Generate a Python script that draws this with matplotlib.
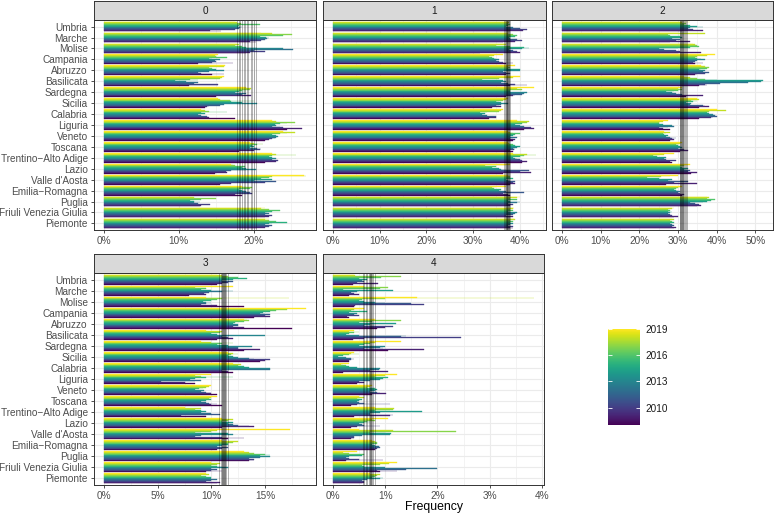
import numpy as np
import matplotlib
matplotlib.use('Agg')
import matplotlib.pyplot as plt
from matplotlib import cm, colors
from matplotlib.ticker import FuncFormatter, MultipleLocator

plt.rcParams['font.family'] = ['Liberation Sans', 'DejaVu Sans']

regions = ['Umbria', 'Marche', 'Molise', 'Campania', 'Abruzzo', 'Basilicata',
           'Sardegna', 'Sicilia', 'Calabria', 'Liguria', 'Veneto', 'Toscana',
           'Trentino\u2212Alto Adige', 'Lazio', "Valle d'Aosta",
           'Emilia\u2212Romagna', 'Puglia', 'Friuli Venezia Giulia', 'Piemonte']
years = list(range(2008, 2020))

# values in %, one row per region, columns 2008..2019
freq0 = [
    [15.6, 14.2, 17.5, 18.0, 18.2, 18.4, 17.9, 18.0, 20.8, 18.3, 17.8, 17.5],
    [20.3, 19.5, 21.0, 21.5, 21.8, 22.0, 21.6, 20.8, 24.0, 25.2, 22.5, 21.0],
    [19.0, 19.5, 21.5, 20.0, 25.3, 24.0, 20.5, 19.0, 18.5, 17.5, 18.0, 17.8],
    [12.5, 17.2, 14.5, 15.0, 14.8, 15.5, 14.5, 14.0, 16.5, 15.0, 14.8, 15.2],
    [14.5, 16.0, 13.0, 12.5, 14.0, 16.0, 15.0, 13.5, 14.5, 14.0, 16.0, 16.2],
    [11.3, 15.2, 15.3, 12.0, 12.5, 11.0, 9.5, 12.5, 11.5, 15.5, 15.8, 16.0],
    [15.0, 19.7, 17.0, 18.5, 19.0, 17.5, 18.0, 19.0, 18.5, 19.5, 19.6, 19.0],
    [13.5, 13.8, 14.0, 15.5, 16.0, 20.5, 18.5, 17.0, 20.0, 16.8, 15.5, 15.2],
    [17.5, 14.0, 13.5, 13.8, 13.0, 12.5, 13.5, 13.0, 16.5, 14.0, 13.5, 13.0],
    [24.5, 26.5, 24.0, 23.5, 22.5, 23.0, 22.8, 23.5, 24.5, 25.5, 23.0, 22.5],
    [21.5, 22.0, 22.5, 22.8, 23.0, 23.2, 23.0, 22.5, 23.5, 24.5, 25.5, 24.0],
    [18.0, 20.0, 20.8, 21.0, 20.5, 19.5, 20.0, 19.8, 20.5, 21.2, 20.0, 19.5],
    [21.5, 23.0, 23.2, 22.5, 22.0, 23.0, 22.5, 22.0, 22.5, 25.7, 23.0, 22.5],
    [14.8, 16.5, 16.3, 17.0, 19.0, 20.3, 19.0, 18.5, 18.8, 17.5, 17.2, 17.0],
    [15.5, 17.0, 21.5, 23.0, 21.0, 20.0, 22.5, 21.0, 22.0, 22.5, 27.0, 26.8],
    [18.5, 17.5, 19.8, 19.5, 19.0, 18.8, 18.5, 18.0, 19.5, 19.8, 19.0, 18.5],
    [12.8, 13.0, 14.2, 12.5, 12.0, 12.8, 12.0, 11.5, 13.0, 15.0, 12.0, 11.5],
    [21.5, 22.0, 22.5, 21.5, 22.0, 21.5, 21.8, 22.5, 23.5, 22.0, 21.0, 21.5],
    [20.5, 21.5, 22.0, 22.5, 21.5, 22.0, 22.5, 24.5, 23.0, 22.0, 21.5, 22.0],
]
freq1 = [
    [38.0, 40.8, 41.5, 40.0, 38.5, 36.0, 37.0, 37.5, 38.0, 37.5, 37.8, 37.5],
    [36.5, 39.0, 40.5, 39.5, 38.0, 37.5, 37.8, 39.0, 39.5, 38.5, 37.5, 37.8],
    [31.5, 40.0, 39.5, 38.5, 37.8, 40.5, 42.0, 41.0, 38.0, 35.0, 37.0, 38.0],
    [37.0, 38.5, 36.5, 35.5, 35.0, 35.5, 35.0, 34.5, 34.0, 33.5, 34.5, 36.5],
    [37.0, 36.5, 38.0, 37.0, 36.5, 40.0, 40.0, 37.0, 37.5, 38.0, 37.5, 39.0],
    [38.0, 41.5, 39.0, 37.5, 36.0, 37.0, 36.5, 27.0, 32.0, 35.5, 38.5, 40.0],
    [37.0, 38.5, 39.0, 40.5, 41.0, 41.5, 38.0, 37.5, 38.0, 40.5, 39.5, 43.0],
    [34.0, 36.0, 35.5, 35.0, 36.0, 37.5, 36.0, 35.0, 35.5, 36.5, 37.0, 37.5],
    [33.5, 35.0, 34.5, 35.0, 33.0, 32.0, 32.5, 31.5, 33.0, 35.5, 36.0, 36.5],
    [41.0, 43.0, 42.5, 40.5, 41.0, 40.0, 39.0, 40.5, 40.0, 41.5, 42.0, 39.5],
    [38.5, 39.0, 38.0, 38.5, 39.5, 38.0, 38.5, 39.0, 40.0, 38.5, 38.0, 37.5],
    [38.5, 38.0, 38.8, 39.0, 38.5, 39.5, 40.0, 39.0, 38.5, 38.0, 37.8, 37.5],
    [40.5, 41.5, 40.5, 40.0, 39.5, 39.0, 38.5, 40.0, 41.0, 43.5, 41.5, 38.5],
    [36.5, 42.5, 40.0, 42.0, 37.0, 36.0, 35.5, 34.0, 35.0, 32.5, 37.0, 38.0],
    [38.0, 39.0, 38.5, 39.0, 38.0, 37.5, 37.0, 38.5, 38.0, 38.0, 38.0, 37.5],
    [38.0, 37.5, 36.5, 41.0, 37.0, 36.0, 35.5, 36.0, 34.5, 34.0, 35.0, 37.0],
    [37.0, 38.0, 38.5, 37.5, 39.5, 40.0, 38.0, 37.5, 39.5, 38.0, 39.5, 40.0],
    [38.0, 38.5, 37.0, 38.5, 39.0, 39.5, 38.0, 37.5, 38.5, 38.0, 38.5, 38.8],
    [38.5, 38.0, 38.5, 37.5, 38.0, 38.5, 37.5, 38.0, 38.5, 38.0, 39.0, 38.8],
]
freq2 = [
    [31.0, 36.5, 34.0, 32.5, 33.0, 36.5, 35.0, 33.0, 31.5, 32.0, 31.0, 33.0],
    [28.0, 33.0, 29.5, 30.5, 28.5, 27.0, 31.0, 30.5, 28.0, 27.5, 37.0, 30.0],
    [30.0, 36.0, 30.5, 29.5, 26.5, 25.0, 30.0, 33.0, 35.5, 35.0, 34.5, 34.0],
    [34.5, 36.5, 34.0, 34.5, 35.0, 37.0, 36.0, 35.0, 34.5, 35.0, 37.5, 39.5],
    [34.5, 35.0, 37.0, 38.0, 36.5, 37.0, 35.5, 36.0, 37.5, 38.0, 37.0, 36.0],
    [35.5, 37.5, 37.0, 41.0, 48.0, 51.5, 52.0, 40.0, 37.0, 35.0, 33.0, 31.5],
    [32.0, 36.5, 30.5, 31.0, 29.5, 28.5, 27.0, 29.0, 30.0, 31.0, 30.0, 31.0],
    [35.5, 38.0, 37.0, 36.5, 33.0, 33.5, 32.0, 34.0, 35.0, 33.5, 35.5, 35.0],
    [35.5, 38.5, 39.0, 40.0, 39.5, 39.0, 38.0, 37.5, 37.0, 38.0, 42.5, 40.0],
    [28.0, 26.0, 25.0, 27.5, 29.0, 28.5, 26.0, 25.0, 24.5, 25.0, 26.0, 27.5],
    [28.0, 29.0, 28.5, 29.5, 28.0, 27.0, 27.5, 26.5, 26.0, 27.0, 28.0, 26.5],
    [30.5, 32.5, 31.5, 30.5, 30.0, 31.0, 30.5, 30.0, 29.5, 30.0, 30.5, 31.0],
    [28.5, 28.0, 29.5, 27.0, 25.5, 26.5, 27.0, 24.5, 23.5, 25.0, 26.5, 29.0],
    [33.5, 35.0, 32.5, 33.0, 32.0, 31.5, 32.5, 31.0, 30.5, 31.5, 32.5, 33.0],
    [27.0, 35.0, 29.0, 32.5, 28.0, 27.5, 28.5, 25.0, 22.0, 25.5, 28.0, 30.0],
    [31.0, 31.5, 30.5, 30.0, 30.5, 30.0, 29.5, 29.0, 29.5, 30.0, 30.5, 31.0],
    [35.0, 36.0, 35.5, 34.5, 33.0, 36.5, 37.5, 38.5, 39.5, 37.5, 38.0, 37.5],
    [29.0, 30.0, 28.5, 28.0, 27.5, 28.0, 28.5, 27.5, 28.0, 27.5, 28.5, 29.0],
    [29.0, 29.5, 28.5, 29.0, 28.5, 28.0, 28.0, 29.0, 28.5, 28.0, 29.0, 28.5],
]
freq3 = [
    [10.5, 11.0, 11.5, 12.0, 11.0, 11.5, 12.0, 13.3, 12.5, 11.5, 11.0, 10.5],
    [7.9, 9.5, 9.3, 9.8, 11.0, 12.0, 10.0, 9.0, 9.5, 8.5, 9.5, 12.0],
    [13.0, 10.5, 9.0, 9.5, 10.0, 9.5, 9.2, 10.0, 10.5, 11.0, 17.2, 9.5],
    [14.0, 15.5, 15.0, 15.5, 15.0, 14.5, 14.8, 15.5, 16.0, 17.0, 15.5, 18.8],
    [17.5, 13.0, 12.0, 12.5, 12.0, 12.5, 12.0, 12.2, 13.0, 13.5, 13.3, 13.0],
    [10.5, 12.0, 11.5, 11.0, 11.5, 15.0, 10.5, 10.0, 10.8, 11.0, 11.0, 9.5],
    [13.0, 14.5, 12.5, 11.0, 12.5, 13.8, 11.5, 10.5, 11.0, 12.0, 10.0, 9.0],
    [14.5, 15.0, 15.5, 14.0, 13.5, 12.5, 12.0, 11.5, 11.8, 12.5, 12.0, 11.5],
    [12.0, 11.5, 11.0, 11.5, 15.5, 15.5, 13.5, 13.0, 12.5, 12.0, 12.8, 12.0],
    [8.5, 7.5, 5.3, 8.5, 9.0, 8.0, 8.5, 9.5, 12.0, 9.0, 8.5, 10.0],
    [10.5, 10.0, 10.0, 9.5, 9.0, 9.3, 8.5, 8.8, 9.2, 9.5, 9.8, 10.0],
    [11.0, 10.0, 10.5, 9.8, 9.5, 9.0, 9.5, 10.0, 9.5, 9.8, 10.0, 10.5],
    [9.5, 7.2, 9.5, 10.8, 10.0, 9.0, 9.5, 9.0, 8.5, 8.5, 9.0, 7.5],
    [11.0, 14.0, 13.5, 12.5, 12.0, 11.5, 12.0, 11.5, 11.0, 11.5, 12.0, 11.0],
    [11.5, 13.0, 11.0, 8.5, 9.0, 12.0, 11.5, 9.0, 8.5, 10.0, 10.5, 17.3],
    [10.5, 10.0, 11.0, 11.5, 10.5, 11.0, 11.5, 11.0, 11.5, 12.0, 12.5, 11.0],
    [13.5, 14.0, 14.0, 13.5, 14.5, 15.5, 14.5, 15.5, 15.0, 14.0, 13.5, 13.0],
    [9.5, 11.0, 10.0, 10.5, 10.0, 11.5, 11.0, 10.5, 10.0, 10.5, 10.8, 10.0],
    [10.5, 10.8, 9.5, 10.0, 10.5, 10.0, 9.5, 10.0, 9.5, 9.0, 9.8, 9.5],
]
freq4 = [
    [0.38, 0.87, 0.45, 0.60, 0.55, 0.50, 0.65, 0.50, 0.92, 1.31, 0.42, 0.40],
    [0.30, 0.50, 0.40, 0.35, 0.45, 0.50, 1.15, 0.20, 0.90, 1.06, 0.55, 0.60],
    [0.40, 0.42, 1.75, 1.50, 1.00, 0.80, 0.60, 0.50, 0.55, 1.00, 3.85, 1.60],
    [0.30, 0.27, 0.50, 0.40, 0.35, 0.45, 0.30, 0.65, 0.35, 0.40, 0.55, 0.60],
    [0.85, 1.00, 1.15, 0.60, 0.80, 0.70, 1.20, 0.50, 0.75, 1.31, 0.80, 0.80],
    [0.38, 0.60, 2.45, 1.30, 1.40, 0.50, 0.25, 0.30, 0.40, 0.50, 0.30, 0.40],
    [1.05, 1.75, 0.60, 0.95, 0.90, 1.00, 0.50, 0.60, 0.70, 0.60, 0.80, 1.30],
    [0.30, 0.30, 0.35, 0.40, 0.35, 0.25, 0.10, 0.20, 0.30, 0.50, 0.35, 0.40],
    [0.20, 1.06, 0.70, 0.50, 0.88, 0.90, 0.45, 0.30, 0.25, 0.20, 0.15, 0.30],
    [0.45, 0.60, 0.50, 0.40, 0.70, 0.90, 0.95, 1.05, 0.85, 0.80, 1.00, 1.22],
    [0.75, 1.02, 0.90, 0.85, 0.70, 0.80, 0.85, 0.80, 0.60, 0.65, 0.70, 0.75],
    [0.35, 0.45, 1.10, 0.60, 0.50, 0.45, 0.50, 0.55, 0.50, 0.45, 0.60, 0.50],
    [0.40, 1.10, 1.15, 0.70, 0.70, 0.90, 1.70, 0.80, 1.10, 1.15, 1.17, 0.80],
    [0.35, 0.45, 0.90, 0.60, 0.55, 0.50, 0.60, 0.70, 0.65, 0.80, 0.75, 1.05],
    [0.35, 0.40, 0.40, 0.40, 0.55, 1.10, 1.12, 1.00, 0.70, 2.35, 1.14, 0.50],
    [0.80, 0.75, 0.85, 0.90, 0.88, 0.80, 0.75, 0.70, 0.85, 0.85, 0.80, 0.75],
    [0.25, 0.95, 0.50, 0.30, 0.25, 0.30, 0.55, 0.50, 0.60, 0.30, 0.20, 0.45],
    [0.90, 1.22, 0.85, 1.40, 2.00, 1.00, 0.80, 0.60, 0.55, 0.90, 1.07, 1.22],
    [0.55, 0.60, 0.60, 0.55, 0.65, 0.90, 0.95, 0.75, 0.80, 0.85, 0.90, 0.70],
]

# national value per year, drawn as vertical lines
nat0 = [17.8, 18.0, 18.2, 18.5, 18.7, 18.9, 19.1, 19.3, 19.6, 19.8, 20.0, 20.3]
nat1 = [36.7, 36.9, 37.0, 37.1, 37.2, 37.3, 37.4, 37.5, 37.6, 37.7, 37.8, 38.0]
nat2 = [30.4, 30.6, 30.8, 30.9, 31.0, 31.1, 31.2, 31.3, 31.5, 31.7, 32.0, 32.3]
nat3 = [10.7, 10.85, 10.95, 11.0, 11.05, 11.1, 11.15, 11.2, 11.25, 11.3, 11.4, 11.5]
nat4 = [0.57, 0.60, 0.63, 0.66, 0.68, 0.70, 0.71, 0.72, 0.73, 0.75, 0.77, 0.80]

panels = ['0', '1', '2', '3', '4']
all_freq = [freq0, freq1, freq2, freq3, freq4]
all_nat = [nat0, nat1, nat2, nat3, nat4]
tick_step = [10, 10, 10, 5, 1]

W, H = 775, 514
fig = plt.figure(figsize=(W / 100, H / 100), dpi=100)

# panel boxes in pixels: left, top, right, bottom
boxes = [(94, 20, 316, 230), (323, 20, 546, 230), (552, 20, 773, 230),
         (94, 273, 316, 485), (323, 273, 544, 485)]

norm = colors.Normalize(vmin=2008, vmax=2019)
cmap = cm.viridis
n_years = len(years)
bar_h = 0.9 / n_years
dark = '#333333'

for k in range(5):
    l, t, r, b = boxes[k]
    ax = fig.add_axes([l / W, 1 - b / H, (r - l) / W, (b - t) / H])
    vals = np.array(all_freq[k])
    for j, yr in enumerate(years):
        c = cmap(norm(yr))
        ypos = np.arange(len(regions)) + 0.45 - (j + 0.5) * bar_h
        ax.barh(ypos, vals[:, j], height=bar_h, color=c, edgecolor=c,
                linewidth=0.25, zorder=2)
    for v in all_nat[k]:
        ax.axvline(v, color='black', alpha=0.3, lw=0.7, zorder=3)

    vmax = vals.max()
    ax.set_xlim(-0.05 * vmax, 1.05 * vmax)
    ax.set_ylim(len(regions) - 0.4, -0.6)
    ax.xaxis.set_major_locator(MultipleLocator(tick_step[k]))
    ax.xaxis.set_minor_locator(MultipleLocator(tick_step[k] / 2))
    ax.xaxis.set_major_formatter(FuncFormatter(lambda x, p: '{:.0f}%'.format(x)))
    ax.grid(True, which='major', color='#EBEBEB', lw=0.8, zorder=0)
    ax.grid(True, which='minor', axis='x', color='#EBEBEB', lw=0.4, zorder=0)
    ax.set_axisbelow(True)
    ax.set_yticks(range(len(regions)))
    if k in (0, 3):
        ax.set_yticklabels(regions)
        ax.tick_params(axis='y', length=2.5, width=0.6, color=dark,
                       labelsize=7.2, labelcolor='#4D4D4D', pad=2)
    else:
        ax.set_yticklabels([])
        ax.tick_params(axis='y', length=0)
    ax.tick_params(axis='x', which='major', length=2.5, width=0.6, color=dark,
                   labelsize=7.2, labelcolor='#4D4D4D', pad=2)
    ax.tick_params(axis='x', which='minor', length=0)
    for s in ax.spines.values():
        s.set_color(dark)
        s.set_linewidth(0.7)

    # facet strip
    sax = fig.add_axes([l / W, 1 - t / H, (r - l) / W, 19 / H])
    sax.set_facecolor('#D9D9D9')
    sax.set_xticks([])
    sax.set_yticks([])
    for s in sax.spines.values():
        s.set_color(dark)
        s.set_linewidth(0.7)
    sax.text(0.5, 0.5, panels[k], ha='center', va='center', fontsize=7.2,
             color='#1A1A1A', transform=sax.transAxes)

fig.text(434 / W, 1 - 507 / H, 'Frequency', ha='center', va='center',
         fontsize=8.8, color='black')

# colour bar
cax = fig.add_axes([608 / W, 1 - 425 / H, 32 / W, 96 / H])
sm = cm.ScalarMappable(norm=norm, cmap=cmap)
cb = fig.colorbar(sm, cax=cax, ticks=[2010, 2013, 2016, 2019])
cb.outline.set_visible(False)
cax.tick_params(direction='in', length=3, width=0.6, color='white',
                left=True, right=True, labelsize=7.2, labelcolor='#1A1A1A', pad=4)

fig.savefig('out.png', dpi=100)
